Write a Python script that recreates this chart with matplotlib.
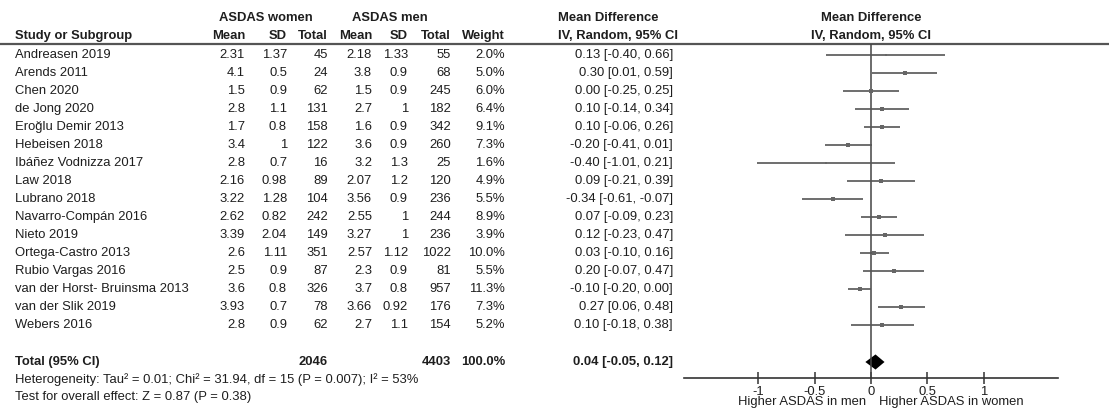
import matplotlib.pyplot as plt
import numpy as np

plt.rcParams['font.family'] = ['Liberation Sans', 'DejaVu Sans']
plt.rcParams['axes.unicode_minus'] = False

studies = ["Andreasen 2019", "Arends 2011", "Chen 2020", "de Jong 2020",
           "Eroğlu Demir 2013", "Hebeisen 2018", "Ibáñez Vodnizza 2017",
           "Law 2018", "Lubrano 2018", "Navarro-Compán 2016", "Nieto 2019",
           "Ortega-Castro 2013", "Rubio Vargas 2016",
           "van der Horst- Bruinsma 2013", "van der Slik 2019", "Webers 2016"]
women_mean = [2.31, 4.1, 1.5, 2.8, 1.7, 3.4, 2.8, 2.16, 3.22, 2.62, 3.39, 2.6, 2.5, 3.6, 3.93, 2.8]
women_sd = [1.37, 0.5, 0.9, 1.1, 0.8, 1, 0.7, 0.98, 1.28, 0.82, 2.04, 1.11, 0.9, 0.8, 0.7, 0.9]
women_n = [45, 24, 62, 131, 158, 122, 16, 89, 104, 242, 149, 351, 87, 326, 78, 62]
men_mean = [2.18, 3.8, 1.5, 2.7, 1.6, 3.6, 3.2, 2.07, 3.56, 2.55, 3.27, 2.57, 2.3, 3.7, 3.66, 2.7]
men_sd = [1.33, 0.9, 0.9, 1, 0.9, 0.9, 1.3, 1.2, 0.9, 1, 1, 1.12, 0.9, 0.8, 0.92, 1.1]
men_n = [55, 68, 245, 182, 342, 260, 25, 120, 236, 244, 236, 1022, 81, 957, 176, 154]
weight = [2.0, 5.0, 6.0, 6.4, 9.1, 7.3, 1.6, 4.9, 5.5, 8.9, 3.9, 10.0, 5.5, 11.3, 7.3, 5.2]
md = [0.13, 0.30, 0.00, 0.10, 0.10, -0.20, -0.40, 0.09, -0.34, 0.07, 0.12, 0.03, 0.20, -0.10, 0.27, 0.10]
ci_lo = [-0.40, 0.01, -0.25, -0.14, -0.06, -0.41, -1.01, -0.21, -0.61, -0.09, -0.23, -0.10, -0.07, -0.20, 0.06, -0.18]
ci_hi = [0.66, 0.59, 0.25, 0.34, 0.26, 0.01, 0.21, 0.39, -0.07, 0.23, 0.47, 0.16, 0.47, 0.00, 0.48, 0.38]

total_women = 2046
total_men = 4403
total_weight = 100.0
total_md, total_lo, total_hi = 0.04, -0.05, 0.12
het_text = "Heterogeneity: Tau² = 0.01; Chi² = 31.94, df = 15 (P = 0.007); I² = 53%"
effect_text = "Test for overall effect: Z = 0.87 (P = 0.38)"
xticks = [-1, -0.5, 0, 0.5, 1]
xticklabels = ["-1", "-0.5", "0", "0.5", "1"]

W, H = 1109, 409
fig = plt.figure(figsize=(W / 100, H / 100), dpi=100)

# table area in pixel coordinates
tab = fig.add_axes([0, 0, 1, 1])
tab.set_xlim(0, W)
tab.set_ylim(H, 0)
tab.axis('off')

fs = 9.4
tc = '#1e1e1e'
row0, dy = 55, 18
total_y = 362

def rowy(i):
    return row0 + i * dy

# headers
tab.text(266, 18, "ASDAS women", ha='center', va='center', fontsize=fs, weight='bold', color=tc)
tab.text(390, 18, "ASDAS men", ha='center', va='center', fontsize=fs, weight='bold', color=tc)
tab.text(558, 18, "Mean Difference", ha='left', va='center', fontsize=fs, weight='bold', color=tc)
tab.text(871, 18, "Mean Difference", ha='center', va='center', fontsize=fs, weight='bold', color=tc)
tab.text(15, 36, "Study or Subgroup", ha='left', va='center', fontsize=fs, weight='bold', color=tc)
cols_x = [245, 287, 328, 372, 408, 451, 505]
for x, h in zip(cols_x, ["Mean", "SD", "Total", "Mean", "SD", "Total", "Weight"]):
    tab.text(x, 36, h, ha='right', va='center', fontsize=fs, weight='bold', color=tc)
tab.text(558, 36, "IV, Random, 95% CI", ha='left', va='center', fontsize=fs, weight='bold', color=tc)
tab.text(871, 36, "IV, Random, 95% CI", ha='center', va='center', fontsize=fs, weight='bold', color=tc)
tab.plot([0, W], [43.5, 43.5], color='#555555', lw=1.6, solid_capstyle='butt')

for i, s in enumerate(studies):
    y = rowy(i)
    tab.text(15, y, s, ha='left', va='center', fontsize=fs, color=tc)
    vals = [f"{women_mean[i]:g}", f"{women_sd[i]:g}", f"{women_n[i]}",
            f"{men_mean[i]:g}", f"{men_sd[i]:g}", f"{men_n[i]}", f"{weight[i]:.1f}%"]
    for x, v in zip(cols_x, vals):
        tab.text(x, y, v, ha='right', va='center', fontsize=fs, color=tc)
    tab.text(673, y, f"{md[i]:.2f} [{ci_lo[i]:.2f}, {ci_hi[i]:.2f}]",
             ha='right', va='center', fontsize=fs, color=tc)

tab.text(15, total_y, "Total (95% CI)", ha='left', va='center', fontsize=fs, weight='bold', color=tc)
tab.text(328, total_y, f"{total_women}", ha='right', va='center', fontsize=fs, weight='bold', color=tc)
tab.text(451, total_y, f"{total_men}", ha='right', va='center', fontsize=fs, weight='bold', color=tc)
tab.text(505, total_y, f"{total_weight:.1f}%", ha='right', va='center', fontsize=fs, weight='bold', color=tc)
tab.text(673, total_y, f"{total_md:.2f} [{total_lo:.2f}, {total_hi:.2f}]",
         ha='right', va='center', fontsize=fs, weight='bold', color=tc)
tab.text(15, 380, het_text, ha='left', va='center', fontsize=fs, color=tc)
tab.text(15, 397, effect_text, ha='left', va='center', fontsize=fs, color=tc)

# forest plot axes
x_left, x_right = 684, 1058
y_top, y_bot = 43.5, 378
ax = fig.add_axes([x_left / W, (H - y_bot) / H, (x_right - x_left) / W, (y_bot - y_top) / H])
ax.patch.set_alpha(0)
ax.set_xlim(-1.66, 1.66)
ax.set_ylim((y_bot - row0) / dy, (y_top - row0) / dy)
for sp in ['top', 'left', 'right']:
    ax.spines[sp].set_visible(False)
ax.spines['bottom'].set_color('#333333')
ax.spines['bottom'].set_linewidth(1.2)
ax.set_yticks([])
ax.set_xticks(xticks)
ax.set_xticklabels(xticklabels)
ax.tick_params(axis='x', direction='inout', length=9, width=1.1, color='#333333',
               labelsize=fs, labelcolor=tc, pad=1)
ax.axvline(0, color='#444444', lw=1.1)

idx = np.arange(len(studies))
for i in idx:
    ax.plot([ci_lo[i], ci_hi[i]], [i, i], color='#555555', lw=1.2, solid_capstyle='butt')
    ax.plot(md[i], i, marker='s', color='#666666', ms=1.2 + 1.8 * np.sqrt(weight[i] / 10), mew=0)

t_i = (total_y - row0) / dy
h = 0.42
ax.fill([total_lo, total_md, total_hi, total_md], [t_i, t_i - h, t_i, t_i + h], color='black', lw=0)

tab.text(866, 402.5, "Higher ASDAS in men", ha='right', va='center', fontsize=fs, color=tc)
tab.text(879, 402.5, "Higher ASDAS in women", ha='left', va='center', fontsize=fs, color=tc)

fig.savefig('out.png', dpi=100)
